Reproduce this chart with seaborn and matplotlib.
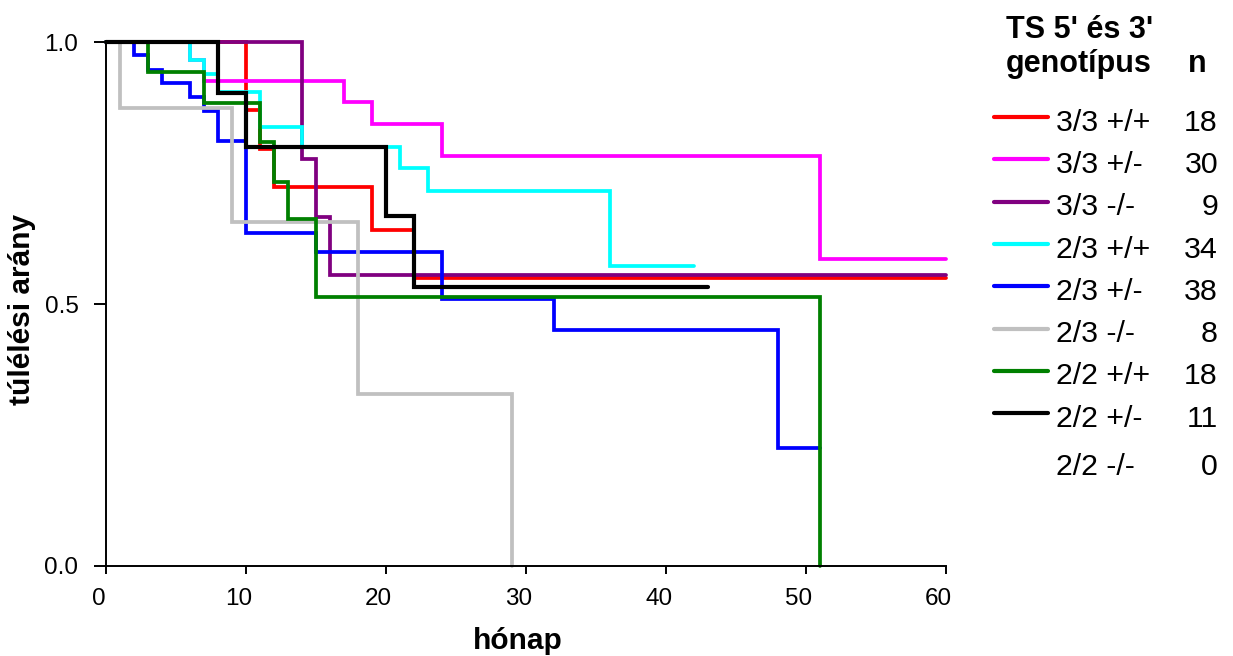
import matplotlib
matplotlib.use("Agg")
import matplotlib.pyplot as plt
import matplotlib.transforms as mtransforms
from matplotlib.lines import Line2D
import seaborn as sns
import pandas as pd

# ---- data ----
groups = ["3/3 +/+", "3/3 +/-", "3/3 -/-", "2/3 +/+", "2/3 +/-", "2/3 -/-", "2/2 +/+", "2/2 +/-", "2/2 -/-"]
n_values = [18, 30, 9, 34, 38, 8, 18, 11, 0]
colors = ["#FF0000", "#FF00FF", "#800080", "#00FFFF", "#0000FF", "#C0C0C0", "#008000", "#000000", None]

t_33pp = [0, 10, 11, 12, 19, 22, 60]
s_33pp = [1.0, 0.871, 0.797, 0.723, 0.642, 0.550, 0.550]
t_33pm = [0, 6, 7, 17, 19, 24, 51, 60]
s_33pm = [1.0, 0.966, 0.926, 0.886, 0.844, 0.782, 0.587, 0.587]
t_33mm = [0, 14, 15, 16, 60]
s_33mm = [1.0, 0.778, 0.667, 0.556, 0.556]
t_23pp = [0, 6, 7, 8, 11, 14, 21, 23, 36, 42]
s_23pp = [1.0, 0.967, 0.939, 0.906, 0.838, 0.800, 0.760, 0.717, 0.573, 0.573]
t_23pm = [0, 2, 3, 4, 6, 7, 8, 10, 15, 24, 32, 48, 51]
s_23pm = [1.0, 0.975, 0.947, 0.923, 0.895, 0.869, 0.812, 0.636, 0.600, 0.509, 0.451, 0.226, 0.226]
t_23mm = [0, 1, 9, 18, 29]
s_23mm = [1.0, 0.875, 0.656, 0.328, 0.0]
t_22pp = [0, 3, 7, 11, 12, 13, 15, 51]
s_22pp = [1.0, 0.944, 0.884, 0.809, 0.734, 0.662, 0.514, 0.0]
t_22pm = [0, 8, 10, 20, 22, 43]
s_22pm = [1.0, 0.903, 0.801, 0.669, 0.532, 0.532]

x_ticks = [0, 10, 20, 30, 40, 50, 60]
y_ticks = [0.0, 0.5, 1.0]
y_ticklabels = ["0.0", "0.5", "1.0"]

series = [(t_33pp, s_33pp), (t_33pm, s_33pm), (t_33mm, s_33mm), (t_23pp, s_23pp),
          (t_23pm, s_23pm), (t_23mm, s_23mm), (t_22pp, s_22pp), (t_22pm, s_22pm)]

rows = []
for g, (tt, ss) in zip(groups, series):
    for t, s in zip(tt, ss):
        rows.append({"group": g, "month": t, "surv": s})
df = pd.DataFrame(rows)

# ---- style ----
sns.set_style("ticks")
plt.rcParams["font.family"] = ["Liberation Sans", "DejaVu Sans"]
plt.rcParams["text.color"] = "black"
plt.rcParams["axes.labelcolor"] = "black"
plt.rcParams["xtick.color"] = "black"
plt.rcParams["ytick.color"] = "black"

fig = plt.figure(figsize=(12.33, 6.56), dpi=100)
W, H = 1233, 656
ax = fig.add_axes([105.7 / W, 1 - 566 / H, 840 / W, (566 - 42.3) / H])

plotted = groups[:8]
sns.lineplot(data=df, x="month", y="surv", hue="group", hue_order=plotted,
             palette=dict(zip(plotted, colors[:8])), drawstyle="steps-post",
             estimator=None, sort=True, linewidth=2.7, legend=False, ax=ax)
for ln in ax.lines:
    ln.set_clip_on(False)
    ln.set_solid_joinstyle("miter")
ax.lines[-1].set_linewidth(3.0)

ax.set_xlim(0, 60)
ax.set_ylim(0, 1)
ax.set_xticks(x_ticks)
ax.set_yticks(y_ticks)
ax.set_yticklabels(y_ticklabels)
sns.despine(ax=ax)
for sp in ["left", "bottom"]:
    ax.spines[sp].set_linewidth(1.4)
    ax.spines[sp].set_color("black")
ax.tick_params(axis="x", length=6, width=1.4, pad=9.5, labelsize=17.5, colors="black")
ax.tick_params(axis="y", length=8.6, width=1.4, pad=11, labelsize=17.5, colors="black")
off = mtransforms.ScaledTranslation(-7 / 100, 0, fig.dpi_scale_trans)
for lab in ax.get_xticklabels():
    lab.set_transform(lab.get_transform() + off)

ax.set_xlabel("hónap", fontsize=21.5, fontweight="bold")
ax.set_ylabel("túlélési arány", fontsize=21.5, fontweight="bold")
ax.xaxis.set_label_coords(0.49, -0.116)
ax.yaxis.set_label_coords(-0.083, 0.49)

# ---- legend (manual, figure pixel coordinates) ----
def fx(px):
    return px / W

def fy(py):
    return 1 - py / H

fig.text(fx(1006), fy(38), "TS 5' és 3'", fontsize=22, fontweight="bold", va="baseline", ha="left")
fig.text(fx(1006), fy(71.7), "genotípus", fontsize=22, fontweight="bold", va="baseline", ha="left")
fig.text(fx(1197), fy(71.7), "n", fontsize=22, fontweight="bold", va="baseline", ha="center")

for i, (g, n, c) in enumerate(zip(groups, n_values, colors)):
    if i < 8:
        ly = 117 + 42.3 * i
        base = ly + 13.7
        fig.add_artist(Line2D([fx(994), fx(1048)], [fy(ly), fy(ly)], color=c,
                              linewidth=3.0, transform=fig.transFigure))
    else:
        base = 475
    fig.text(fx(1056), fy(base), g, fontsize=21.8, va="baseline", ha="left")
    fig.text(fx(1218), fy(base), str(n), fontsize=21.8, va="baseline", ha="right")

fig.savefig("out.png", dpi=100)
